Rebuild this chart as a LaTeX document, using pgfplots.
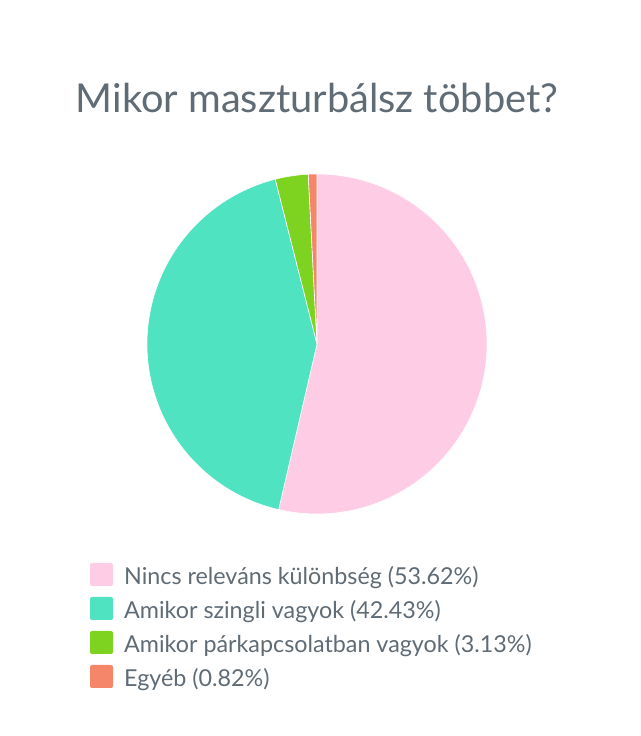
\documentclass[border=0pt]{standalone}
\usepackage{fontspec}
\setmainfont{Lato}
\usepackage{pgfplots}
\pgfplotsset{compat=1.18}

\definecolor{pieA}{HTML}{FFCCE6}
\definecolor{pieB}{HTML}{50E3C2}
\definecolor{pieC}{HTML}{7ED321}
\definecolor{pieD}{HTML}{F5866A}
\definecolor{txt}{HTML}{5F6B75}

\begin{document}
\begin{tikzpicture}
    % slice shares in percent
    \def\vA{53.62}
    \def\vB{42.43}
    \def\vC{3.13}
    \def\vD{0.82}
    \pgfmathsetmacro\aA{90}
    \pgfmathsetmacro\aB{\aA-3.6*\vA}
    \pgfmathsetmacro\aC{\aB-3.6*\vB}
    \pgfmathsetmacro\aD{\aC-3.6*\vC}
    \pgfmathsetmacro\aE{\aD-3.6*\vD}
    \begin{axis}[
            x=1pt, y=1pt,
            xmin=0, xmax=640, ymin=0, ymax=736,
            hide axis, clip=false,
        ]
        \path (axis cs:0,0) rectangle (axis cs:640,736);
        \node[anchor=base, text=txt, font=\fontsize{39.8}{44}\selectfont]
            at (axis cs:317,623) {Mikor maszturbálsz többet?};
        % pie, centre (317,392), radius 170
        \fill[pieA, draw=white, line width=0.6pt] (axis cs:317,392) -- ++(\aA:170pt)
            arc[start angle=\aA, end angle=\aB, radius=170pt] -- cycle;
        \fill[pieB, draw=white, line width=0.6pt] (axis cs:317,392) -- ++(\aB:170pt)
            arc[start angle=\aB, end angle=\aC, radius=170pt] -- cycle;
        \fill[pieC, draw=white, line width=0.6pt] (axis cs:317,392) -- ++(\aC:170pt)
            arc[start angle=\aC, end angle=\aD, radius=170pt] -- cycle;
        \fill[pieD, draw=white, line width=0.6pt] (axis cs:317,392) -- ++(\aD:170pt)
            arc[start angle=\aD, end angle=\aE, radius=170pt] -- cycle;
        % legend
        \fill[pieA, rounded corners=2pt] (axis cs:90,150) rectangle (axis cs:113,173);
        \fill[pieB, rounded corners=2pt] (axis cs:90,116) rectangle (axis cs:113,139);
        \fill[pieC, rounded corners=2pt] (axis cs:90,82) rectangle (axis cs:113,105);
        \fill[pieD, rounded corners=2pt] (axis cs:90,48) rectangle (axis cs:113,71);
        \begin{scope}[every node/.style={anchor=base west, text=txt, inner sep=0pt,
                font=\fontsize{23.3}{27}\selectfont}]
            \node at (axis cs:124,151) {Nincs releváns különbség (53.62\%)};
            \node at (axis cs:124,117) {Amikor szingli vagyok (42.43\%)};
            \node at (axis cs:124,83) {Amikor párkapcsolatban vagyok (3.13\%)};
            \node at (axis cs:124,49) {Egyéb (0.82\%)};
        \end{scope}
    \end{axis}
\end{tikzpicture}
\end{document}
